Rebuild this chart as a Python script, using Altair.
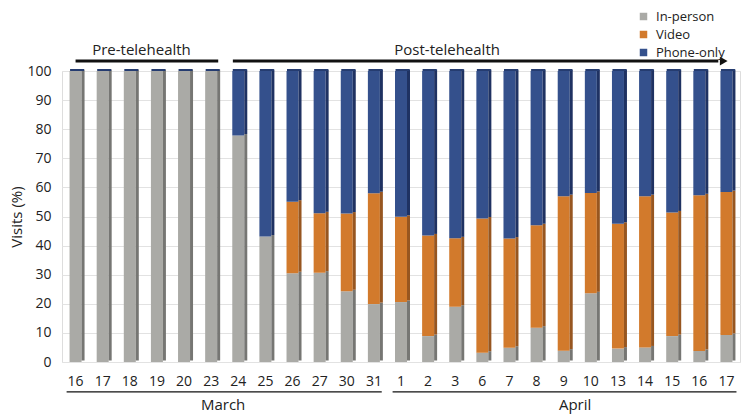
import altair as alt
import pandas as pd

# ---- data ----
months = ["March"] * 12 + ["April"] * 13
days = [16, 17, 18, 19, 20, 23, 24, 25, 26, 27, 30, 31,
        1, 2, 3, 6, 7, 8, 9, 10, 13, 14, 15, 16, 17]
in_person = [100, 100, 100, 100, 100, 100, 77.8, 43.1, 30.5, 30.7, 24.3, 19.9,
             20.6, 8.9, 19.0, 3.2, 4.9, 11.8, 3.9, 23.6, 4.6, 5.0, 8.9, 3.8, 9.3]
video = [0, 0, 0, 0, 0, 0, 0, 0, 24.6, 20.4, 26.7, 38.1,
         29.3, 34.6, 23.5, 46.1, 37.5, 35.2, 53.1, 34.5, 42.9, 52.0, 42.5, 53.5, 49.1]
phone = [round(100 - a - b, 1) for a, b in zip(in_person, video)]

series = ["In-person", "Video", "Phone-only"]
front_colors = ["#AAAAA6", "#D27A2C", "#34508C"]
side_colors = ["#767673", "#975620", "#1F3262"]

period_labels = ["Pre-telehealth", "Post-telehealth"]
period_start = [0.0, 5.8]
period_end = [5.26, 23.7]
period_text_at = [2.43, 13.7]
arrow_at = [23.9]

month_labels = ["March", "April"]
month_start = [-0.33, 11.69]
month_end = [11.29, 24.37]
month_text_at = [5.44, 18.42]

y_ticks = list(range(0, 101, 10))

FONT = "Open Sans"
TXT = "#222222"

keys = [f"{m}-{d}" for m, d in zip(months, days)]
rows = []
for i, k in enumerate(keys):
    for s, vals in enumerate([in_person, video, phone]):
        rows.append({"key": k, "type": series[s], "order": s,
                     "value": vals[i], "side": side_colors[s]})
df = pd.DataFrame(rows)
top_df = pd.DataFrame({"key": keys, "top": [100] * len(keys)})

ydom = alt.Scale(domain=[0, 100], nice=False, zero=True)
xband = alt.Scale(domain=keys, paddingInner=0, paddingOuter=0)

yaxis = alt.Axis(title="Visits (%)", values=y_ticks, labelOverlap=False,
                 ticks=False, domain=False, labelPadding=11,
                 labelFontSize=14, labelFont=FONT, labelColor=TXT,
                 titleFontSize=15, titleFont=FONT, titleFontWeight="normal",
                 titleColor=TXT, titlePadding=2,
                 gridColor="#E2E2E2", gridWidth=1)
xaxis = alt.Axis(title=None, labelExpr="split(datum.label, '-')[1]",
                 ticks=False, domain=False, labelAngle=0, labelPadding=12,
                 labelFontSize=14, labelFont=FONT, labelColor=TXT, grid=False)

base = alt.Chart(df)

front = base.mark_bar(width=12, xOffset=0).encode(
    x=alt.X("key:N", scale=xband, sort=keys, axis=xaxis),
    y=alt.Y("value:Q", stack="zero", scale=ydom, axis=yaxis),
    color=alt.Color("type:N", scale=alt.Scale(domain=series, range=front_colors),
                    legend=alt.Legend(title=None, orient="none", legendX=575, legendY=-61,
                                      symbolType="square", symbolSize=56,
                                      symbolStrokeWidth=0, labelFontSize=13,
                                      labelFont=FONT, labelColor=TXT, rowPadding=4,
                                      labelOffset=6)),
    order=alt.Order("order:Q"),
)

side = base.mark_bar(width=3, xOffset=7.5, yOffset=-1.5, y2Offset=-1.5).encode(
    x=alt.X("key:N", scale=xband, sort=keys, axis=xaxis),
    y=alt.Y("value:Q", stack="zero", scale=ydom, axis=yaxis),
    fill=alt.Fill("side:N", scale=None, legend=None),
    order=alt.Order("order:Q"),
)

top = alt.Chart(top_df).mark_bar(width=14, xOffset=1.5, yOffset=-2, y2Offset=0,
                                 color="#253C70").encode(
    x=alt.X("key:N", scale=xband, sort=keys, axis=xaxis),
    y=alt.Y("top:Q", scale=ydom, axis=yaxis),
    y2="top:Q",
)

bars = alt.layer(front, side, top)

pos = alt.Scale(domain=[-0.5, 24.5], nice=False, zero=False)

per_df = pd.DataFrame({"label": period_labels, "s": period_start, "e": period_end,
                       "t": period_text_at, "y": [103.4] * 2, "ty": [107.2] * 2})
mon_df = pd.DataFrame({"label": month_labels, "s": month_start, "e": month_end,
                       "t": month_text_at, "y": [-10.3] * 2, "ty": [-14.9] * 2})
arr_df = pd.DataFrame({"x": arrow_at, "y": [103.4]})

per_rule = alt.Chart(per_df).mark_rule(strokeWidth=3, color="#111111").encode(
    x=alt.X("s:Q", scale=pos, axis=None), x2="e:Q",
    y=alt.Y("y:Q", scale=ydom, axis=yaxis))
per_text = alt.Chart(per_df).mark_text(fontSize=15, font=FONT, color=TXT,
                                       baseline="middle").encode(
    x=alt.X("t:Q", scale=pos, axis=None), y=alt.Y("ty:Q", scale=ydom, axis=yaxis),
    text="label:N")
arrow = alt.Chart(arr_df).mark_point(shape="triangle-right", filled=True, size=80,
                                     color="#111111", opacity=1).encode(
    x=alt.X("x:Q", scale=pos, axis=None), y=alt.Y("y:Q", scale=ydom, axis=yaxis))
mon_rule = alt.Chart(mon_df).mark_rule(strokeWidth=1.3, color="#111111").encode(
    x=alt.X("s:Q", scale=pos, axis=None), x2="e:Q",
    y=alt.Y("y:Q", scale=ydom, axis=yaxis))
mon_text = alt.Chart(mon_df).mark_text(fontSize=15, font=FONT, color=TXT,
                                       baseline="middle").encode(
    x=alt.X("t:Q", scale=pos, axis=None), y=alt.Y("ty:Q", scale=ydom, axis=yaxis),
    text="label:N")

annot = alt.layer(per_rule, per_text, arrow, mon_rule, mon_text)

chart = alt.layer(bars, annot).resolve_scale(x="independent").properties(
    width=678, height=291,
    autosize=alt.AutoSizeParams(type="none"),
    padding={"left": 54, "top": 63, "right": 1, "bottom": 52},
).configure_view(stroke=None).configure(font=FONT, background="white")

chart.save("out.html", embed_options={"renderer": "svg", "actions": False})
